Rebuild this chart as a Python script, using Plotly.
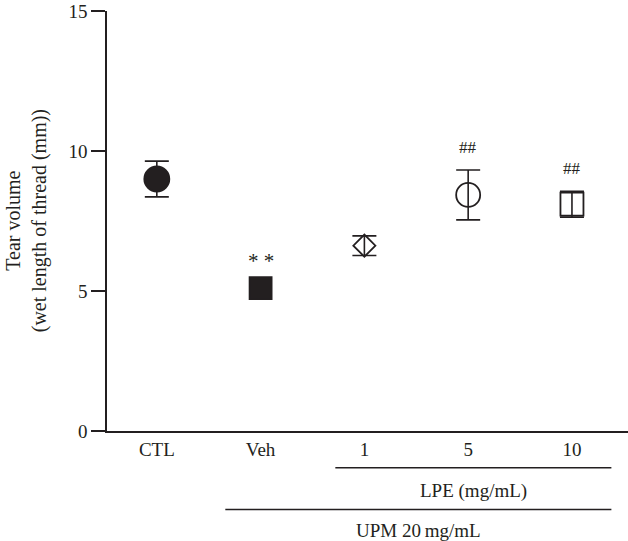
import plotly.graph_objects as go

# ---- data ----
categories = ["CTL", "Veh", "1", "5", "10"]
means = [9.0, 5.1, 6.62, 8.43, 8.1]
errors = [0.64, 0.0, 0.35, 0.89, 0.46]
symbols = ["circle", "square", "diamond-open", "circle-open", "square-open"]
marker_sizes = [25, 22, 17, 24, 23]
sig_labels = ["", "* *", "", "##", "##"]
y_ticks = [0, 5, 10, 15]
group_labels = ["LPE (mg/mL)", "UPM 20\u2009mg/mL"]
group_spans = [("1", "10"), ("Veh", "10")]

INK = "#231f20"
FONT = "Liberation Serif"

fig = go.Figure()
for cat, m, e, sym, sz in zip(categories, means, errors, symbols, marker_sizes):
    fig.add_trace(go.Scatter(
        x=[cat], y=[m], mode="markers",
        marker=dict(symbol=sym, size=sz, color=INK,
                    line=dict(color=INK, width=1.8)),
        error_y=dict(type="data", array=[e], visible=e > 0,
                     color=INK, thickness=1.6, width=12),
        showlegend=False, cliponaxis=False, hoverinfo="skip",
    ))

# significance marks
for i, (m, e, lab) in enumerate(zip(means, errors, sig_labels)):
    if lab:
        star = "*" in lab
        fig.add_annotation(x=i, y=m + e, text=lab, showarrow=False,
                           yanchor="middle", yshift=(27 if star else 23),
                           font=dict(family=FONT, size=(21 if star else 17), color=INK))

# group brackets under the axis
line_rows = [-0.0875, -0.187]
text_rows = [-0.142, -0.236]
start_pad = [0.28, 0.34]
end_pad = 0.38
for lab, (a, b), ly, ty, sp in zip(group_labels, group_spans, line_rows, text_rows, start_pad):
    x0 = categories.index(a) - sp
    x1 = categories.index(b) + end_pad
    fig.add_shape(type="line", xref="x", yref="paper", x0=x0, x1=x1, y0=ly, y1=ly,
                  line=dict(color=INK, width=1.6))
    fig.add_annotation(xref="x", yref="paper", x=(x0 + x1) / 2, y=ty, text=lab,
                       showarrow=False, yanchor="middle",
                       font=dict(family=FONT, size=19, color=INK))

fig.add_annotation(xref="paper", yref="paper", x=-0.155, y=0.5,
                   text="Tear volume<br>(wet length of thread (mm))",
                   textangle=-90, showarrow=False, xanchor="center", yanchor="middle",
                   font=dict(family=FONT, size=20, color=INK))

fig.update_layout(
    width=628, height=541,
    margin=dict(l=107, r=0, t=11, b=110),
    plot_bgcolor="white", paper_bgcolor="white",
    font=dict(family=FONT, size=19, color=INK),
    xaxis=dict(type="category", categoryorder="array", categoryarray=categories,
               range=[-0.48, 4.54], showline=True, linecolor=INK, linewidth=1.6,
               ticks="", showgrid=False, zeroline=False, automargin=False,
               tickfont=dict(family=FONT, size=19, color=INK)),
    yaxis=dict(range=[0, 15], tickvals=y_ticks, showline=True, linecolor=INK,
               linewidth=1.6, ticks="outside", ticklen=14, tickwidth=1.6,
               tickcolor=INK, showgrid=False, zeroline=False, automargin=False,
               tickfont=dict(family=FONT, size=19, color=INK)),
)

fig.write_html("out.html", config={"displayModeBar": False},
               post_script="document.body.style.margin='0';document.body.style.overflow='hidden';")
